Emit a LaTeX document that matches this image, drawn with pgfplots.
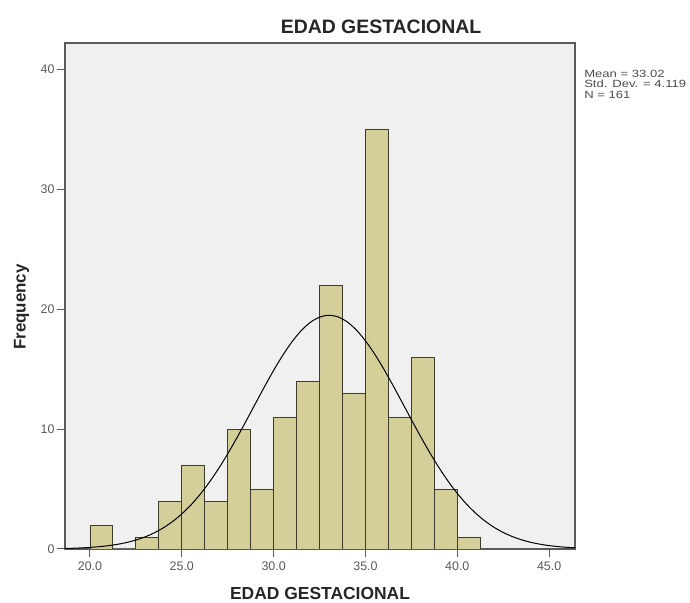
\documentclass[border=0pt]{standalone}
\usepackage{pgfplots}
\pgfplotsset{compat=1.18}
\usepackage{fontspec}
\setmainfont{Liberation Sans}
\definecolor{barfill}{RGB}{212,206,152}
\definecolor{plotbg}{RGB}{240,240,240}
\definecolor{framec}{RGB}{90,90,90}
\definecolor{barline}{RGB}{60,60,45}
\begin{document}
\begin{tikzpicture}[x=1bp,y=1bp]
\useasboundingbox (0,0) rectangle (690,603);
\begin{axis}[
  at={(65bp,54bp)}, anchor=south west,
  width=510bp, height=506bp, scale only axis,
  xmin=18.64, xmax=46.41, ymin=0, ymax=42.2,
  axis background/.style={fill=plotbg},
  axis line style={draw=framec, line width=1.2bp},
  xtick={20,25,30,35,40,45},
  xticklabels={20.0,25.0,30.0,35.0,40.0,45.0},
  ytick={0,10,20,30,40},
  yticklabels={0,10,20,30,40},
  tick align=outside,
  major tick length=8bp,
  tick style={draw=framec, line width=1bp},
  xtick pos=bottom, ytick pos=left,
  ticklabel style={font=\fontsize{12.5}{14}\selectfont, text=black!65},
  xticklabel style={yshift=-1bp},
  yticklabel style={xshift=1bp},
  clip=true,
]
\addplot[ybar interval, fill=barfill, draw=barline, line width=0.9bp] coordinates {
  (20.00,2) (21.25,0) (22.50,1) (23.75,4) (25.00,7) (26.25,4) (27.50,10)
  (28.75,5) (30.00,11) (31.25,14) (32.50,22) (33.75,13) (35.00,35)
  (36.25,11) (37.50,16) (38.75,5) (40.00,1) (41.25,1)
};
\addplot[black, line width=1bp, smooth, mark=none] coordinates {
  (18.5,0.039) (19,0.059) (19.5,0.089) (20,0.132) (20.5,0.192) (21,0.276)
  (21.5,0.390) (22,0.544) (22.5,0.747) (23,1.011) (23.5,1.348) (24,1.772)
  (24.5,2.295) (25,2.928) (25.5,3.681) (26,4.561) (26.5,5.569) (27,6.698)
  (27.5,7.940) (28,9.274) (28.5,10.674) (29,12.105) (29.5,13.527) (30,14.896)
  (30.5,16.164) (31,17.281) (31.5,18.207) (32,18.902) (32.5,19.335) (33,19.49)
  (33.5,19.358) (34,18.946) (34.5,18.272) (35,17.363) (35.5,16.259) (36,15.002)
  (36.5,13.640) (37,12.220) (37.5,10.788) (38,9.385) (38.5,8.044) (39,6.794)
  (39.5,5.654) (40,4.636) (40.5,3.747) (41,2.984) (41.5,2.341) (42,1.810)
  (42.5,1.379) (43,1.035) (43.5,0.766) (44,0.558) (44.5,0.401) (45,0.284)
  (45.5,0.198) (46,0.136) (46.5,0.092)
};
\end{axis}
\node[anchor=base, font=\bfseries\fontsize{19.5}{22}\selectfont, text=black!85] at (381,569) {EDAD GESTACIONAL};
\node[anchor=base, font=\bfseries\fontsize{17.5}{20}\selectfont, text=black!85] at (320,3.5) {EDAD GESTACIONAL};
\node[anchor=base, rotate=90, font=\bfseries\fontsize{17}{20}\selectfont, text=black!85] at (25.5,296) {Frequency};
\node[anchor=north west, align=left, inner sep=0pt, font=\fontsize{10.5}{10.5}\selectfont, text=black!70, xscale=1.25] at (584,533) {Mean = 33.02\\Std. Dev. = 4.119\\N = 161};
\end{tikzpicture}
\end{document}
